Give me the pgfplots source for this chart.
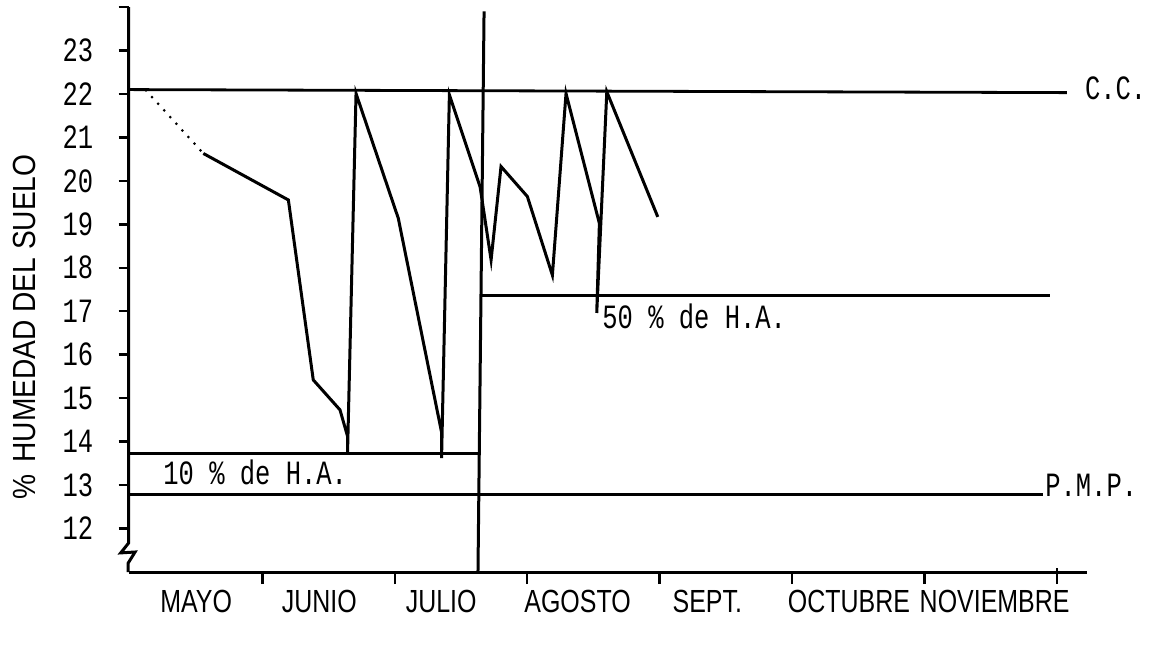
\documentclass[border=0pt]{standalone}
\usepackage{pgfplots}
\pgfplotsset{compat=1.18}
\usepackage{fontspec}
\newfontfamily\tw{Liberation Mono}[FakeStretch=0.75]
\newfontfamily\gs{Liberation Sans}[FakeStretch=0.78]
\newfontfamily\gsw{Liberation Sans}[FakeStretch=0.88]
\begin{document}
\begin{tikzpicture}
\useasboundingbox (-64.35pt,-36.5pt) rectangle (514.65pt,286pt);
\begin{axis}[
  at={(0,0)}, anchor=south west,
  scale only axis, width=479.3pt, height=282.5pt,
  xmin=-0.01, xmax=7.23, ymin=11, ymax=24,
  clip=false,
  axis x line*=bottom, axis y line*=left,
  x axis line style={line width=1.5pt, -},
  y axis line style={draw=none},
  tick align=outside,
  major tick length=5pt,
  minor tick length=6pt,
  tick style={line width=1.2pt, black},
  ytick={12,...,23},
  extra y ticks={24}, extra y tick labels={},
  yticklabel style={font=\tw\fontsize{17}{19}\selectfont, anchor=east, inner sep=0pt, xshift=-12.5pt},
  /pgf/number format/assume math mode=true,
  xtick={0.5,1.43,2.35,3.38,4.36,5.43,6.53},
  xticklabels={MAYO,JUNIO,JULIO,AGOSTO,SEPT.,OCTUBRE,NOVIEMBRE},
  every major x tick/.append style={draw=none},
  minor xtick={1,2,3,4,5,6,7},
  xticklabel style={font=\gs\fontsize{16}{18}\selectfont, anchor=north, inner sep=0pt, yshift=-4pt},
  ylabel={\%\hspace{6pt}HUMEDAD DEL SUELO},
  ylabel style={font=\gsw\fontsize{16}{18}\selectfont, at={(axis description cs:-0.1082,0.4336)}, anchor=center},
]
% y axis with break
\draw[line width=1.5pt, line join=miter] (axis cs:-0.01,24) -- (axis cs:-0.01,11.67) -- (axis cs:-0.07,11.44) -- (axis cs:0.038,11.46) -- (axis cs:-0.015,11.2) -- (axis cs:-0.015,11);
\draw[line width=1.2pt] (axis cs:7,11) -- (axis cs:7,11.09);
% reference lines
\addplot[line width=1.4pt] coordinates {(-0.01,22.1) (7.075,22.03)};
\addplot[line width=1.4pt] coordinates {(-0.01,12.79) (6.896,12.79)};
\addplot[line width=1.4pt] coordinates {(-0.01,13.73) (2.65,13.73)};
\addplot[line width=1.4pt] coordinates {(2.65,17.37) (6.95,17.37)};
\addplot[line width=1.5pt] coordinates {(2.674,23.9) (2.628,11)};
% dotted start
\addplot[line width=1.5pt, dash pattern=on 0pt off 4.5pt, line cap=round] coordinates {(0.121,22.08) (0.554,20.63)};
% soil moisture
\addplot[line width=1.5pt, line join=miter] coordinates {
(0.554,20.63) (1.196,19.56) (1.384,15.42) (1.586,14.73) (1.644,14.11) (1.643,13.76)
(1.707,22.01) (2.026,19.14) (2.354,14.20) (2.353,13.62)
(2.412,21.98) (2.644,19.86) (2.727,18.18) (2.802,20.33) (3.001,19.64) (3.190,17.83)
(3.293,22.01) (3.545,19.02) (3.525,16.96) (3.601,22.05) (3.986,19.17)
};
% labels
\node[font=\tw\fontsize{17}{19}\selectfont, anchor=west, inner sep=0pt] at (axis cs:7.21,22.12) {C.C.};
\node[font=\tw\fontsize{17}{19}\selectfont, anchor=base west, inner sep=0pt] at (axis cs:6.91,12.74) {P.M.P.};
\node[font=\tw\fontsize{17}{19}\selectfont, anchor=west, inner sep=0pt] at (axis cs:0.249,13.30) {10 \% de H.A.};
\node[font=\tw\fontsize{17}{19}\selectfont, anchor=west, inner sep=0pt] at (axis cs:3.565,16.89) {50 \% de H.A.};
\end{axis}
\end{tikzpicture}
\end{document}
